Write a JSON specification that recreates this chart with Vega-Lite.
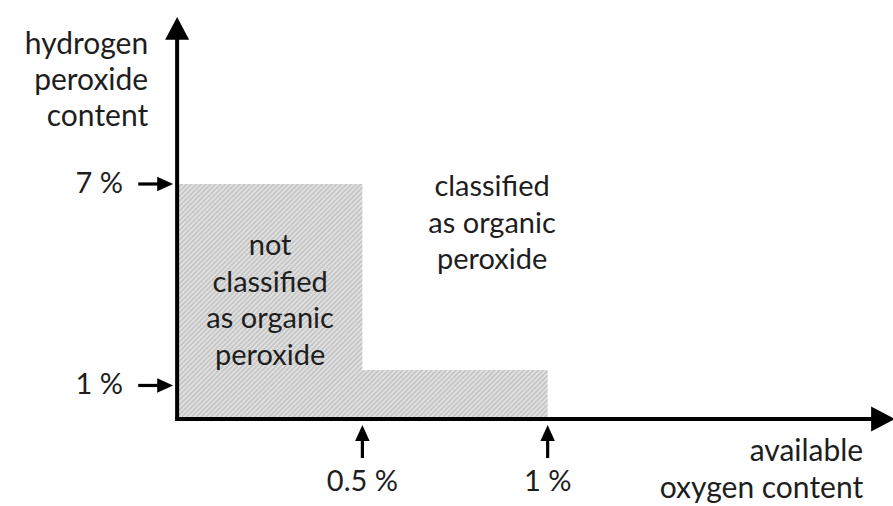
{
  "$schema": "https://vega.github.io/schema/vega-lite/v6.json",
  "width": 893,
  "height": 506,
  "padding": 0,
  "autosize": {"type": "none"},
  "background": "white",
  "config": {"view": {"stroke": null}},
  "datasets": {
    "region": [
      {"x": 0, "y": 7},
      {"x": 0.5, "y": 1.46},
      {"x": 1.0, "y": 1.46}
    ],
    "arrows": [
      {"role": "axis", "dir": "up", "xs": 0, "ys": -0.06, "xe": 0, "ye": 11.62, "xt": 0, "yt": 11.975},
      {"role": "axis", "dir": "right", "xs": -0.005, "ys": 0, "xe": 1.897, "ye": 0, "xt": 1.937, "yt": 0},
      {"role": "marker", "dir": "right", "xs": -0.105, "ys": 7, "xe": -0.032, "ye": 7, "xt": -0.0108, "yt": 7},
      {"role": "marker", "dir": "right", "xs": -0.105, "ys": 1, "xe": -0.032, "ye": 1, "xt": -0.0108, "yt": 1},
      {"role": "marker", "dir": "up", "xs": 0.5, "ys": -1.162, "xe": 0.5, "ye": -0.417, "xt": 0.5, "yt": -0.179},
      {"role": "marker", "dir": "up", "xs": 1.0, "ys": -1.162, "xe": 1.0, "ye": -0.417, "xt": 1.0, "yt": -0.179}
    ],
    "labels": [
      {"group": "ytick", "text": "7 %", "x": -0.146, "y": 7},
      {"group": "ytick", "text": "1 %", "x": -0.146, "y": 1},
      {"group": "xtick", "text": "0.5 %", "x": 0.5, "y": -1.877},
      {"group": "xtick", "text": "1 %", "x": 1.0, "y": -1.877},
      {"group": "ytitle", "text": "hydrogen", "x": -0.078, "y": 10.873},
      {"group": "ytitle", "text": "peroxide", "x": -0.078, "y": 9.80},
      {"group": "ytitle", "text": "content", "x": -0.078, "y": 8.728},
      {"group": "xtitle", "text": "available", "x": 1.8516, "y": -1.251},
      {"group": "xtitle", "text": "oxygen content", "x": 1.8516, "y": -2.353},
      {"group": "region", "text": "not", "x": 0.251, "y": 4.885},
      {"group": "region", "text": "classified", "x": 0.251, "y": 3.783},
      {"group": "region", "text": "as organic", "x": 0.251, "y": 2.711},
      {"group": "region", "text": "peroxide", "x": 0.251, "y": 1.609},
      {"group": "region", "text": "classified", "x": 0.850, "y": 6.643},
      {"group": "region", "text": "as organic", "x": 0.850, "y": 5.541},
      {"group": "region", "text": "peroxide", "x": 0.850, "y": 4.468}
    ]
  },
  "layer": [
    {
      "data": {"name": "region"},
      "mark": {
        "type": "area",
        "interpolate": "step-after",
        "opacity": 1,
        "color": {
          "gradient": "linear",
          "x1": 0, "y1": 0, "x2": 1.166, "y2": 0.738,
          "stops": [
            {"offset":0,"color":"#c0c0c0"},{"offset":0.004,"color":"#e6e6e6"},{"offset":0.008,"color":"#c0c0c0"},{"offset":0.012,"color":"#e6e6e6"},{"offset":0.016,"color":"#c0c0c0"},{"offset":0.02,"color":"#e6e6e6"},{"offset":0.024,"color":"#c0c0c0"},{"offset":0.028,"color":"#e6e6e6"},{"offset":0.032,"color":"#c0c0c0"},{"offset":0.036,"color":"#e6e6e6"},
            {"offset":0.04,"color":"#c0c0c0"},{"offset":0.044,"color":"#e6e6e6"},{"offset":0.048,"color":"#c0c0c0"},{"offset":0.052,"color":"#e6e6e6"},{"offset":0.056,"color":"#c0c0c0"},{"offset":0.06,"color":"#e6e6e6"},{"offset":0.064,"color":"#c0c0c0"},{"offset":0.068,"color":"#e6e6e6"},{"offset":0.072,"color":"#c0c0c0"},{"offset":0.076,"color":"#e6e6e6"},
            {"offset":0.08,"color":"#c0c0c0"},{"offset":0.084,"color":"#e6e6e6"},{"offset":0.088,"color":"#c0c0c0"},{"offset":0.092,"color":"#e6e6e6"},{"offset":0.096,"color":"#c0c0c0"},{"offset":0.1,"color":"#e6e6e6"},{"offset":0.104,"color":"#c0c0c0"},{"offset":0.108,"color":"#e6e6e6"},{"offset":0.112,"color":"#c0c0c0"},{"offset":0.116,"color":"#e6e6e6"},
            {"offset":0.12,"color":"#c0c0c0"},{"offset":0.124,"color":"#e6e6e6"},{"offset":0.128,"color":"#c0c0c0"},{"offset":0.132,"color":"#e6e6e6"},{"offset":0.136,"color":"#c0c0c0"},{"offset":0.14,"color":"#e6e6e6"},{"offset":0.144,"color":"#c0c0c0"},{"offset":0.148,"color":"#e6e6e6"},{"offset":0.152,"color":"#c0c0c0"},{"offset":0.156,"color":"#e6e6e6"},
            {"offset":0.16,"color":"#c0c0c0"},{"offset":0.164,"color":"#e6e6e6"},{"offset":0.168,"color":"#c0c0c0"},{"offset":0.172,"color":"#e6e6e6"},{"offset":0.176,"color":"#c0c0c0"},{"offset":0.18,"color":"#e6e6e6"},{"offset":0.184,"color":"#c0c0c0"},{"offset":0.188,"color":"#e6e6e6"},{"offset":0.192,"color":"#c0c0c0"},{"offset":0.196,"color":"#e6e6e6"},
            {"offset":0.2,"color":"#c0c0c0"},{"offset":0.204,"color":"#e6e6e6"},{"offset":0.208,"color":"#c0c0c0"},{"offset":0.212,"color":"#e6e6e6"},{"offset":0.216,"color":"#c0c0c0"},{"offset":0.22,"color":"#e6e6e6"},{"offset":0.224,"color":"#c0c0c0"},{"offset":0.228,"color":"#e6e6e6"},{"offset":0.232,"color":"#c0c0c0"},{"offset":0.236,"color":"#e6e6e6"},
            {"offset":0.24,"color":"#c0c0c0"},{"offset":0.244,"color":"#e6e6e6"},{"offset":0.248,"color":"#c0c0c0"},{"offset":0.252,"color":"#e6e6e6"},{"offset":0.256,"color":"#c0c0c0"},{"offset":0.26,"color":"#e6e6e6"},{"offset":0.264,"color":"#c0c0c0"},{"offset":0.268,"color":"#e6e6e6"},{"offset":0.272,"color":"#c0c0c0"},{"offset":0.276,"color":"#e6e6e6"},
            {"offset":0.28,"color":"#c0c0c0"},{"offset":0.284,"color":"#e6e6e6"},{"offset":0.288,"color":"#c0c0c0"},{"offset":0.292,"color":"#e6e6e6"},{"offset":0.296,"color":"#c0c0c0"},{"offset":0.3,"color":"#e6e6e6"},{"offset":0.304,"color":"#c0c0c0"},{"offset":0.308,"color":"#e6e6e6"},{"offset":0.312,"color":"#c0c0c0"},{"offset":0.316,"color":"#e6e6e6"},
            {"offset":0.32,"color":"#c0c0c0"},{"offset":0.324,"color":"#e6e6e6"},{"offset":0.328,"color":"#c0c0c0"},{"offset":0.332,"color":"#e6e6e6"},{"offset":0.336,"color":"#c0c0c0"},{"offset":0.34,"color":"#e6e6e6"},{"offset":0.344,"color":"#c0c0c0"},{"offset":0.348,"color":"#e6e6e6"},{"offset":0.352,"color":"#c0c0c0"},{"offset":0.356,"color":"#e6e6e6"},
            {"offset":0.36,"color":"#c0c0c0"},{"offset":0.364,"color":"#e6e6e6"},{"offset":0.368,"color":"#c0c0c0"},{"offset":0.372,"color":"#e6e6e6"},{"offset":0.376,"color":"#c0c0c0"},{"offset":0.38,"color":"#e6e6e6"},{"offset":0.384,"color":"#c0c0c0"},{"offset":0.388,"color":"#e6e6e6"},{"offset":0.392,"color":"#c0c0c0"},{"offset":0.396,"color":"#e6e6e6"},
            {"offset":0.4,"color":"#c0c0c0"},{"offset":0.404,"color":"#e6e6e6"},{"offset":0.408,"color":"#c0c0c0"},{"offset":0.412,"color":"#e6e6e6"},{"offset":0.416,"color":"#c0c0c0"},{"offset":0.42,"color":"#e6e6e6"},{"offset":0.424,"color":"#c0c0c0"},{"offset":0.428,"color":"#e6e6e6"},{"offset":0.432,"color":"#c0c0c0"},{"offset":0.436,"color":"#e6e6e6"},
            {"offset":0.44,"color":"#c0c0c0"},{"offset":0.444,"color":"#e6e6e6"},{"offset":0.448,"color":"#c0c0c0"},{"offset":0.452,"color":"#e6e6e6"},{"offset":0.456,"color":"#c0c0c0"},{"offset":0.46,"color":"#e6e6e6"},{"offset":0.464,"color":"#c0c0c0"},{"offset":0.468,"color":"#e6e6e6"},{"offset":0.472,"color":"#c0c0c0"},{"offset":0.476,"color":"#e6e6e6"},
            {"offset":0.48,"color":"#c0c0c0"},{"offset":0.484,"color":"#e6e6e6"},{"offset":0.488,"color":"#c0c0c0"},{"offset":0.492,"color":"#e6e6e6"},{"offset":0.496,"color":"#c0c0c0"},{"offset":0.5,"color":"#e6e6e6"},{"offset":0.504,"color":"#c0c0c0"},{"offset":0.508,"color":"#e6e6e6"},{"offset":0.512,"color":"#c0c0c0"},{"offset":0.516,"color":"#e6e6e6"},
            {"offset":0.52,"color":"#c0c0c0"},{"offset":0.524,"color":"#e6e6e6"},{"offset":0.528,"color":"#c0c0c0"},{"offset":0.532,"color":"#e6e6e6"},{"offset":0.536,"color":"#c0c0c0"},{"offset":0.54,"color":"#e6e6e6"},{"offset":0.544,"color":"#c0c0c0"},{"offset":0.548,"color":"#e6e6e6"},{"offset":0.552,"color":"#c0c0c0"},{"offset":0.556,"color":"#e6e6e6"},
            {"offset":0.56,"color":"#c0c0c0"},{"offset":0.564,"color":"#e6e6e6"},{"offset":0.568,"color":"#c0c0c0"},{"offset":0.572,"color":"#e6e6e6"},{"offset":0.576,"color":"#c0c0c0"},{"offset":0.58,"color":"#e6e6e6"},{"offset":0.584,"color":"#c0c0c0"},{"offset":0.588,"color":"#e6e6e6"},{"offset":0.592,"color":"#c0c0c0"},{"offset":0.596,"color":"#e6e6e6"},
            {"offset":0.6,"color":"#c0c0c0"},{"offset":0.604,"color":"#e6e6e6"},{"offset":0.608,"color":"#c0c0c0"},{"offset":0.612,"color":"#e6e6e6"},{"offset":0.616,"color":"#c0c0c0"},{"offset":0.62,"color":"#e6e6e6"},{"offset":0.624,"color":"#c0c0c0"},{"offset":0.628,"color":"#e6e6e6"},{"offset":0.632,"color":"#c0c0c0"},{"offset":0.636,"color":"#e6e6e6"},
            {"offset":0.64,"color":"#c0c0c0"},{"offset":0.644,"color":"#e6e6e6"},{"offset":0.648,"color":"#c0c0c0"},{"offset":0.652,"color":"#e6e6e6"},{"offset":0.656,"color":"#c0c0c0"},{"offset":0.66,"color":"#e6e6e6"},{"offset":0.664,"color":"#c0c0c0"},{"offset":0.668,"color":"#e6e6e6"},{"offset":0.672,"color":"#c0c0c0"},{"offset":0.676,"color":"#e6e6e6"},
            {"offset":0.68,"color":"#c0c0c0"},{"offset":0.684,"color":"#e6e6e6"},{"offset":0.688,"color":"#c0c0c0"},{"offset":0.692,"color":"#e6e6e6"},{"offset":0.696,"color":"#c0c0c0"},{"offset":0.7,"color":"#e6e6e6"},{"offset":0.704,"color":"#c0c0c0"},{"offset":0.708,"color":"#e6e6e6"},{"offset":0.712,"color":"#c0c0c0"},{"offset":0.716,"color":"#e6e6e6"},
            {"offset":0.72,"color":"#c0c0c0"},{"offset":0.724,"color":"#e6e6e6"},{"offset":0.728,"color":"#c0c0c0"},{"offset":0.732,"color":"#e6e6e6"},{"offset":0.736,"color":"#c0c0c0"},{"offset":0.74,"color":"#e6e6e6"},{"offset":0.744,"color":"#c0c0c0"},{"offset":0.748,"color":"#e6e6e6"},{"offset":0.752,"color":"#c0c0c0"},{"offset":0.756,"color":"#e6e6e6"},
            {"offset":0.76,"color":"#c0c0c0"},{"offset":0.764,"color":"#e6e6e6"},{"offset":0.768,"color":"#c0c0c0"},{"offset":0.772,"color":"#e6e6e6"},{"offset":0.776,"color":"#c0c0c0"},{"offset":0.78,"color":"#e6e6e6"},{"offset":0.784,"color":"#c0c0c0"},{"offset":0.788,"color":"#e6e6e6"},{"offset":0.792,"color":"#c0c0c0"},{"offset":0.796,"color":"#e6e6e6"},
            {"offset":0.8,"color":"#c0c0c0"},{"offset":0.804,"color":"#e6e6e6"},{"offset":0.808,"color":"#c0c0c0"},{"offset":0.812,"color":"#e6e6e6"},{"offset":0.816,"color":"#c0c0c0"},{"offset":0.82,"color":"#e6e6e6"},{"offset":0.824,"color":"#c0c0c0"},{"offset":0.828,"color":"#e6e6e6"},{"offset":0.832,"color":"#c0c0c0"},{"offset":0.836,"color":"#e6e6e6"},
            {"offset":0.84,"color":"#c0c0c0"},{"offset":0.844,"color":"#e6e6e6"},{"offset":0.848,"color":"#c0c0c0"},{"offset":0.852,"color":"#e6e6e6"},{"offset":0.856,"color":"#c0c0c0"},{"offset":0.86,"color":"#e6e6e6"},{"offset":0.864,"color":"#c0c0c0"},{"offset":0.868,"color":"#e6e6e6"},{"offset":0.872,"color":"#c0c0c0"},{"offset":0.876,"color":"#e6e6e6"},
            {"offset":0.88,"color":"#c0c0c0"},{"offset":0.884,"color":"#e6e6e6"},{"offset":0.888,"color":"#c0c0c0"},{"offset":0.892,"color":"#e6e6e6"},{"offset":0.896,"color":"#c0c0c0"},{"offset":0.9,"color":"#e6e6e6"},{"offset":0.904,"color":"#c0c0c0"},{"offset":0.908,"color":"#e6e6e6"},{"offset":0.912,"color":"#c0c0c0"},{"offset":0.916,"color":"#e6e6e6"},
            {"offset":0.92,"color":"#c0c0c0"},{"offset":0.924,"color":"#e6e6e6"},{"offset":0.928,"color":"#c0c0c0"},{"offset":0.932,"color":"#e6e6e6"},{"offset":0.936,"color":"#c0c0c0"},{"offset":0.94,"color":"#e6e6e6"},{"offset":0.944,"color":"#c0c0c0"},{"offset":0.948,"color":"#e6e6e6"},{"offset":0.952,"color":"#c0c0c0"},{"offset":0.956,"color":"#e6e6e6"},
            {"offset":0.96,"color":"#c0c0c0"},{"offset":0.964,"color":"#e6e6e6"},{"offset":0.968,"color":"#c0c0c0"},{"offset":0.972,"color":"#e6e6e6"},{"offset":0.976,"color":"#c0c0c0"},{"offset":0.98,"color":"#e6e6e6"},{"offset":0.984,"color":"#c0c0c0"},{"offset":0.988,"color":"#e6e6e6"},{"offset":0.992,"color":"#c0c0c0"},{"offset":0.996,"color":"#e6e6e6"},
            {"offset":1,"color":"#c0c0c0"}
          ]
        }
      },
      "encoding": {
        "x": {"field": "x", "type": "quantitative", "scale": {"domain": [-0.478, 1.932], "nice": false, "zero": false}, "axis": null},
        "y": {"field": "y", "type": "quantitative", "scale": {"domain": [-2.59, 12.48], "nice": false, "zero": false}, "axis": null},
        "y2": {"datum": 0}
      }
    },
    {
      "data": {"name": "arrows"},
      "transform": [{"filter": "datum.role === 'axis'"}],
      "mark": {"type": "rule", "color": "black", "strokeWidth": 4, "strokeCap": "butt"},
      "encoding": {
        "x": {"field": "xs", "type": "quantitative"},
        "x2": {"field": "xe"},
        "y": {"field": "ys", "type": "quantitative"},
        "y2": {"field": "ye"}
      }
    },
    {
      "data": {"name": "arrows"},
      "transform": [{"filter": "datum.role === 'marker'"}],
      "mark": {"type": "rule", "color": "black", "strokeWidth": 3.2, "strokeCap": "butt"},
      "encoding": {
        "x": {"field": "xs", "type": "quantitative"},
        "x2": {"field": "xe"},
        "y": {"field": "ys", "type": "quantitative"},
        "y2": {"field": "ye"}
      }
    },
    {
      "data": {"name": "arrows"},
      "transform": [{"filter": "datum.role === 'axis' && datum.dir === 'up'"}],
      "mark": {"type": "point", "shape": "M0,0L-1,1.9L1,1.9Z", "size": 576, "filled": true, "color": "black", "opacity": 1, "strokeWidth": 0},
      "encoding": {
        "x": {"field": "xt", "type": "quantitative"},
        "y": {"field": "yt", "type": "quantitative"}
      }
    },
    {
      "data": {"name": "arrows"},
      "transform": [{"filter": "datum.role === 'axis' && datum.dir === 'right'"}],
      "mark": {"type": "point", "shape": "M0,0L-1.9,-1L-1.9,1Z", "size": 625, "filled": true, "color": "black", "opacity": 1, "strokeWidth": 0},
      "encoding": {
        "x": {"field": "xt", "type": "quantitative"},
        "y": {"field": "yt", "type": "quantitative"}
      }
    },
    {
      "data": {"name": "arrows"},
      "transform": [{"filter": "datum.role === 'marker' && datum.dir === 'right'"}],
      "mark": {"type": "point", "shape": "M0,0L-2.2,-1L-2.2,1Z", "size": 210, "filled": true, "color": "black", "opacity": 1, "strokeWidth": 0},
      "encoding": {
        "x": {"field": "xt", "type": "quantitative"},
        "y": {"field": "yt", "type": "quantitative"}
      }
    },
    {
      "data": {"name": "arrows"},
      "transform": [{"filter": "datum.role === 'marker' && datum.dir === 'up'"}],
      "mark": {"type": "point", "shape": "M0,0L-1,2.2L1,2.2Z", "size": 210, "filled": true, "color": "black", "opacity": 1, "strokeWidth": 0},
      "encoding": {
        "x": {"field": "xt", "type": "quantitative"},
        "y": {"field": "yt", "type": "quantitative"}
      }
    },
    {
      "data": {"name": "labels"},
      "transform": [{"filter": "datum.group === 'ytick'"}],
      "mark": {"type": "text", "font": "Lato", "fontSize": 29, "color": "#1e1e1e", "align": "right", "baseline": "middle"},
      "encoding": {
        "x": {"field": "x", "type": "quantitative"},
        "y": {"field": "y", "type": "quantitative"},
        "text": {"field": "text"}
      }
    },
    {
      "data": {"name": "labels"},
      "transform": [{"filter": "datum.group === 'xtick'"}],
      "mark": {"type": "text", "font": "Lato", "fontSize": 29, "color": "#1e1e1e", "align": "center", "baseline": "middle"},
      "encoding": {
        "x": {"field": "x", "type": "quantitative"},
        "y": {"field": "y", "type": "quantitative"},
        "text": {"field": "text"}
      }
    },
    {
      "data": {"name": "labels"},
      "transform": [{"filter": "datum.group === 'ytitle' || datum.group === 'xtitle'"}],
      "mark": {"type": "text", "font": "Lato", "fontSize": 30, "color": "#1e1e1e", "align": "right", "baseline": "alphabetic"},
      "encoding": {
        "x": {"field": "x", "type": "quantitative"},
        "y": {"field": "y", "type": "quantitative"},
        "text": {"field": "text"}
      }
    },
    {
      "data": {"name": "labels"},
      "transform": [{"filter": "datum.group === 'region'"}],
      "mark": {"type": "text", "font": "Lato", "fontSize": 29, "color": "#1e1e1e", "align": "center", "baseline": "alphabetic"},
      "encoding": {
        "x": {"field": "x", "type": "quantitative"},
        "y": {"field": "y", "type": "quantitative"},
        "text": {"field": "text"}
      }
    }
  ]
}
